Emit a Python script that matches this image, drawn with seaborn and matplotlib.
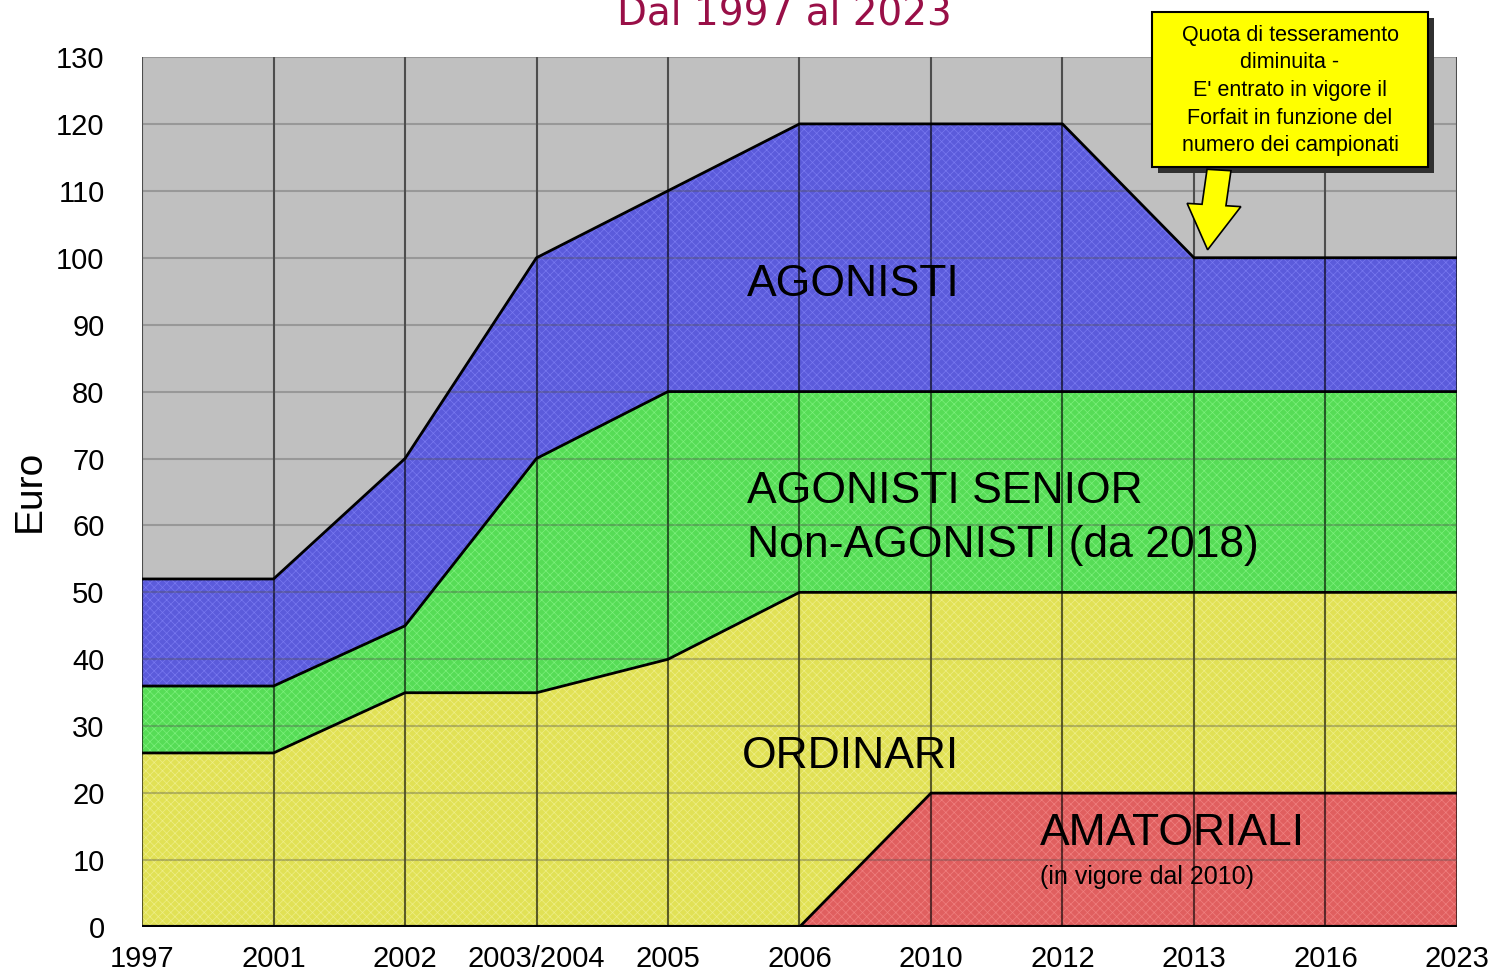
"""Quote di tesseramento dal 1997 al 2023 (area chart)."""

import matplotlib

matplotlib.use("Agg")
import matplotlib.pyplot as plt
import numpy as np
import seaborn as sns
from matplotlib.patches import FancyArrow, Rectangle

years = ["1997", "2001", "2002", "2003/2004", "2005", "2006", "2010", "2012", "2013", "2016", "2023"]
agonisti = [52, 52, 70, 100, 110, 120, 120, 120, 100, 100, 100]
senior = [36, 36, 45, 70, 80, 80, 80, 80, 80, 80, 80]
ordinari = [26, 26, 35, 35, 40, 50, 50, 50, 50, 50, 50]
amatoriali = [0, 0, 0, 0, 0, 0, 20, 20, 20, 20, 20]
y_ticks = list(range(0, 131, 10))

series = [
    (agonisti, "#5B5BDB", "#7878F0"),
    (senior, "#56DC56", "#7CF07C"),
    (ordinari, "#E1E155", "#EEEE88"),
    (amatoriali, "#E05F5F", "#F08080"),
]

sns.set_style("white")
plt.rcParams["font.family"] = ["Liberation Sans", "DejaVu Sans"]
plt.rcParams["hatch.linewidth"] = 0.5
for key in ["text.color", "axes.labelcolor", "xtick.color", "ytick.color"]:
    plt.rcParams[key] = "black"

fig = plt.figure(figsize=(14.92, 9.74), dpi=100)
ax = fig.add_axes([0.0952, 0.0483, 0.8813, 0.8932])
ax.set_facecolor("#C0C0C0")

x = np.arange(len(years))
for values, color, hatch_color in series:
    ax.fill_between(x, 0, values, facecolor=color, edgecolor=hatch_color, hatch="xxxx", linewidth=0, zorder=2)
for values, _, _ in series:
    sns.lineplot(x=x, y=values, color="black", linewidth=2, ax=ax, zorder=4)

for xi in x:
    ax.axvline(xi, color="black", alpha=0.6, linewidth=1.5, zorder=3)
for yi in y_ticks:
    ax.axhline(yi, color="#505050", alpha=0.35, linewidth=1.5, zorder=3)
ax.axhline(0, color="black", linewidth=3, zorder=5)

ax.set_xlim(0, len(years) - 1)
ax.set_ylim(0, 130)
ax.set_xticks(x)
ax.set_xticklabels(years)
ax.set_yticks(y_ticks)
ax.tick_params(axis="x", labelsize=21, length=0, pad=13)
ax.tick_params(axis="y", labelsize=21, length=0, pad=27)
for side in ["top", "right", "left", "bottom"]:
    ax.spines[side].set_visible(False)
fig.text(30 / 1492, 1 - 491 / 974, "Euro", fontsize=28, rotation=90, ha="center", va="center")

ax.text(4.6, 96, "AGONISTI", fontsize=32, va="center", ha="left", zorder=6)
ax.text(4.6, 65, "AGONISTI SENIOR", fontsize=32, va="center", ha="left", zorder=6)
ax.text(4.6, 57, "Non-AGONISTI (da 2018)", fontsize=32, va="center", ha="left", zorder=6)
ax.text(4.56, 25.5, "ORDINARI", fontsize=32, va="center", ha="left", zorder=6)
ax.text(6.83, 14, "AMATORIALI", fontsize=32, va="center", ha="left", zorder=6)
ax.text(6.83, 7.5, "(in vigore dal 2010)", fontsize=18, va="center", ha="left", zorder=6)

fig.text(0.526, 0.986, "Dal 1997 al 2023", fontsize=28, color="#990F47",
         family="DejaVu Sans", ha="center", va="center")

# annotation box with shadow and arrow
box_x, box_y, box_w, box_h = 1152 / 1492, 1 - 167 / 974, 276 / 1492, 155 / 974
fig.patches.append(Rectangle((box_x + 6 / 1492, box_y - 6 / 974), box_w, box_h, transform=fig.transFigure,
                             facecolor="#303030", edgecolor="none", zorder=10))
fig.patches.append(Rectangle((box_x, box_y), box_w, box_h, transform=fig.transFigure,
                             facecolor="#FFFF00", edgecolor="black", linewidth=1.5, zorder=11))
fig.text(box_x + box_w / 2, box_y + box_h / 2 - 1 / 974,
         "Quota di tesseramento\ndiminuita -\nE' entrato in vigore il\nForfait in funzione del\nnumero dei campionati",
         fontsize=15.5, ha="center", va="center", linespacing=1.42, zorder=12)
fig.patches.append(FancyArrow(1219 / 1492, 1 - 170 / 974, -5 / 1492, -35 / 974, width=24 / 1492,
                              head_width=54 / 1492, head_length=45 / 974, length_includes_head=False,
                              transform=fig.transFigure, facecolor="#FFFF00", edgecolor="black",
                              linewidth=1.2, zorder=12))

fig.savefig("out.png", dpi=100)
